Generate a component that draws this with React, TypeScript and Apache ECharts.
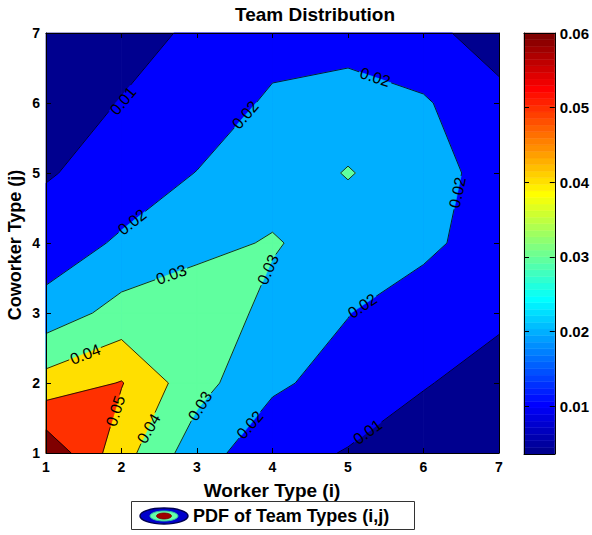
import React, { useEffect, useRef } from "react";
import * as echarts from "echarts";

// ---------- data ----------
const X_TYPES = [1, 2, 3, 4, 5, 6, 7]; // Worker Type (i)
const Y_TYPES = [1, 2, 3, 4, 5, 6, 7]; // Coworker Type (j)

// PDF values, one row per coworker type j, columns = worker type i
const Z_J1 = [0.068, 0.044, 0.0242, 0.0136, 0.0094, 0.0076, 0.0055];
const Z_J2 = [0.044, 0.0505, 0.0336, 0.0216, 0.0163, 0.0103, 0.0082];
const Z_J3 = [0.0242, 0.0336, 0.0375, 0.02665, 0.0203, 0.0128, 0.0108];
const Z_J4 = [0.0136, 0.0216, 0.02665, 0.031, 0.0245, 0.0232, 0.0129];
const Z_J5 = [0.0094, 0.01295, 0.0203, 0.0245, 0.0306, 0.0245, 0.0156];
const Z_J6 = [0.0076, 0.0102, 0.0128, 0.022, 0.0245, 0.0209, 0.0139];
const Z_J7 = [0.0055, 0.0082, 0.0108, 0.015, 0.0155, 0.0139, 0.0036];
const Z_ROWS = [Z_J1, Z_J2, Z_J3, Z_J4, Z_J5, Z_J6, Z_J7];

const LEVELS = [0.01, 0.02, 0.03, 0.04, 0.05, 0.06];
const COLORBAR_TICKS = [0.01, 0.02, 0.03, 0.04, 0.05, 0.06];
const CLIM_MAX = 0.06;

// inline contour labels: [level, x, y, rotation in degrees]
const CONTOUR_LABELS: number[][] = [
  [0.01, 2.02, 6.03, 50],
  [0.02, 3.64, 5.83, 49],
  [0.02, 2.14, 4.3, 38],
  [0.02, 5.36, 6.37, -18],
  [0.02, 6.45, 4.72, 78],
  [0.02, 5.19, 3.1, 34],
  [0.02, 3.7, 1.4, 49],
  [0.01, 5.26, 1.3, 36],
  [0.03, 2.66, 3.55, 20],
  [0.03, 3.94, 3.62, 66],
  [0.03, 3.04, 1.67, 58],
  [0.04, 1.52, 2.41, 21],
  [0.04, 2.36, 1.35, 60],
  [0.05, 1.92, 1.6, 72],
];

const TITLE = "Team Distribution";
const X_NAME = "Worker Type (i)";
const Y_NAME = "Coworker Type (j)";
const LEGEND_TEXT = "PDF of Team Types (i,j)";

// ---------- helpers ----------
const FONT = '"Liberation Sans", Arial, Helvetica, sans-serif';
const ZMIN = Math.min(...Z_ROWS.flat());

function jetColors(n: number): string[] {
  const m = Math.ceil(n / 4);
  const u: number[] = [];
  for (let i = 1; i <= m; i++) u.push(i / m);
  for (let i = 0; i < m - 1; i++) u.push(1);
  for (let i = m; i >= 1; i--) u.push(i / m);
  const gStart = Math.ceil(m / 2) - (n % 4 === 1 ? 1 : 0);
  const r = new Array(n).fill(0);
  const g = new Array(n).fill(0);
  const b = new Array(n).fill(0);
  for (let k = 0; k < u.length; k++) {
    const gi = gStart + k + 1;
    const ri = gi + m;
    const bi = gi - m;
    if (gi >= 1 && gi <= n) g[gi - 1] = u[k];
    if (ri >= 1 && ri <= n) r[ri - 1] = u[k];
    if (bi >= 1 && bi <= n) b[bi - 1] = u[k];
  }
  const out: string[] = [];
  for (let i = 0; i < n; i++) {
    out.push(
      `rgb(${Math.round(r[i] * 255)},${Math.round(g[i] * 255)},${Math.round(b[i] * 255)})`
    );
  }
  return out;
}
const NCOL = 64;
const JET = jetColors(NCOL);
function colorOf(c: number): string {
  let idx = Math.floor(((c - ZMIN) / (CLIM_MAX - ZMIN)) * NCOL) + 1;
  idx = Math.max(1, Math.min(NCOL, idx));
  return JET[idx - 1];
}

type P = [number, number];
function interp(p: P, q: P, vp: number, vq: number, L: number): P {
  const t = (L - vp) / (vq - vp);
  return [p[0] + t * (q[0] - p[0]), p[1] + t * (q[1] - p[1])];
}
function cell(i: number, j: number) {
  const pts: P[] = [
    [X_TYPES[i], Y_TYPES[j]],
    [X_TYPES[i + 1], Y_TYPES[j]],
    [X_TYPES[i + 1], Y_TYPES[j + 1]],
    [X_TYPES[i], Y_TYPES[j + 1]],
  ];
  const vals = [Z_ROWS[j][i], Z_ROWS[j][i + 1], Z_ROWS[j + 1][i + 1], Z_ROWS[j + 1][i]];
  return { pts, vals };
}
function bandPolys(pts: P[], vals: number[], L: number): P[][] {
  const above = vals.map((v) => v >= L);
  if (!above.some(Boolean)) return [];
  if (above.every(Boolean)) return [pts];
  const saddle = above[0] === above[2] && above[1] === above[3] && above[0] !== above[1];
  const center = (vals[0] + vals[1] + vals[2] + vals[3]) / 4;
  if (saddle && center < L) {
    const polys: P[][] = [];
    for (let k = 0; k < 4; k++) {
      if (!above[k]) continue;
      const pr = (k + 3) % 4;
      const nx = (k + 1) % 4;
      polys.push([
        interp(pts[pr], pts[k], vals[pr], vals[k], L),
        pts[k],
        interp(pts[k], pts[nx], vals[k], vals[nx], L),
      ]);
    }
    return polys;
  }
  const poly: P[] = [];
  for (let k = 0; k < 4; k++) {
    const n = (k + 1) % 4;
    if (above[k]) poly.push(pts[k]);
    if (above[k] !== above[n]) poly.push(interp(pts[k], pts[n], vals[k], vals[n], L));
  }
  return [poly];
}
function segments(pts: P[], vals: number[], L: number): [P, P][] {
  const above = vals.map((v) => v >= L);
  const cross: (P | null)[] = [];
  for (let k = 0; k < 4; k++) {
    const n = (k + 1) % 4;
    cross.push(above[k] !== above[n] ? interp(pts[k], pts[n], vals[k], vals[n], L) : null);
  }
  const found = cross.filter((c) => c) as P[];
  if (found.length === 2) return [[found[0], found[1]]];
  if (found.length === 4) {
    const center = (vals[0] + vals[1] + vals[2] + vals[3]) / 4;
    const cutAbove = center < L;
    const segs: [P, P][] = [];
    for (let k = 0; k < 4; k++) {
      if (above[k] !== cutAbove) continue;
      segs.push([cross[(k + 3) % 4] as P, cross[k] as P]);
    }
    return segs;
  }
  return [];
}

type Box = { cx: number; cy: number; c: number; s: number; hw: number; hh: number };
function clipOutside(a: number[], b: number[], boxes: Box[]): number[][][] {
  let pieces: number[][] = [[0, 1]];
  for (const bx of boxes) {
    const ua = (a[0] - bx.cx) * bx.c - (a[1] - bx.cy) * bx.s;
    const va = (a[0] - bx.cx) * bx.s + (a[1] - bx.cy) * bx.c;
    const ub = (b[0] - bx.cx) * bx.c - (b[1] - bx.cy) * bx.s;
    const vb = (b[0] - bx.cx) * bx.s + (b[1] - bx.cy) * bx.c;
    let t0 = 0;
    let t1 = 1;
    let ok = true;
    const clip = (p: number, q: number) => {
      if (p === 0) {
        if (q < 0) ok = false;
        return;
      }
      const r = q / p;
      if (p < 0) {
        if (r > t1) ok = false;
        else if (r > t0) t0 = r;
      } else {
        if (r < t0) ok = false;
        else if (r < t1) t1 = r;
      }
    };
    const du = ub - ua;
    const dv = vb - va;
    clip(-du, ua + bx.hw);
    clip(du, bx.hw - ua);
    clip(-dv, va + bx.hh);
    clip(dv, bx.hh - va);
    if (!ok || t0 >= t1) continue;
    const np: number[][] = [];
    for (const [s, e] of pieces) {
      if (e <= t0 || s >= t1) {
        np.push([s, e]);
        continue;
      }
      if (s < t0) np.push([s, t0]);
      if (e > t1) np.push([t1, e]);
    }
    pieces = np;
  }
  const lerp = (t: number) => [a[0] + t * (b[0] - a[0]), a[1] + t * (b[1] - a[1])];
  return pieces.map(([s, e]) => [lerp(s), lerp(e)]);
}

const fmt = (v: number) => v.toFixed(2);

export default function App() {
  const ref = useRef<HTMLDivElement>(null);
  useEffect(() => {
    if (!ref.current) return;
    const chart = echarts.init(ref.current, undefined, { renderer: "svg" });

    const fillLevels = [ZMIN, ...LEVELS];
    const fillData = fillLevels.map((L, k) => [X_TYPES[0], Y_TYPES[0], k]);
    const lineData = LEVELS.map((L, k) => [X_TYPES[0], Y_TYPES[0], k]);
    const step = (CLIM_MAX - ZMIN) / NCOL;
    const barData = JET.map((c, k) => [0.5, ZMIN + (k + 0.5) * step, k]);

    const axisLineStyle = { show: true, onZero: false, lineStyle: { color: "#000", width: 1 } };
    const tickIn = { show: true, inside: true, length: 5, lineStyle: { color: "#000", width: 1 } };
    const labelFont = { fontFamily: FONT, fontWeight: "bold" as const, fontSize: 14, color: "#000" };

    const option: any = {
      animation: false,
      grid: [
        { left: 46, top: 33, width: 453, height: 420 },
        { left: 524, top: 33, width: 32, height: 421 },
      ],
      xAxis: [
        {
          gridIndex: 0, type: "value", min: 1, max: 7, interval: 1, position: "bottom", z: 10,
          axisLine: axisLineStyle, axisTick: tickIn,
          axisLabel: { ...labelFont, margin: 7 }, splitLine: { show: false },
        },
        {
          gridIndex: 0, type: "value", min: 1, max: 7, interval: 1, position: "top", z: 10,
          axisLine: axisLineStyle, axisTick: tickIn, axisLabel: { show: false }, splitLine: { show: false },
        },
        {
          gridIndex: 1, type: "value", min: 0, max: 1, position: "bottom", z: 10,
          axisLine: axisLineStyle, axisTick: { show: false }, axisLabel: { show: false }, splitLine: { show: false },
        },
        {
          gridIndex: 1, type: "value", min: 0, max: 1, position: "top", z: 10,
          axisLine: axisLineStyle, axisTick: { show: false }, axisLabel: { show: false }, splitLine: { show: false },
        },
      ],
      yAxis: [
        {
          gridIndex: 0, type: "value", min: 1, max: 7, interval: 1, position: "left", z: 10,
          axisLine: axisLineStyle, axisTick: tickIn,
          axisLabel: { ...labelFont, margin: 6 }, splitLine: { show: false },
        },
        {
          gridIndex: 0, type: "value", min: 1, max: 7, interval: 1, position: "right", z: 10,
          axisLine: axisLineStyle, axisTick: tickIn, axisLabel: { show: false }, splitLine: { show: false },
        },
        {
          gridIndex: 1, type: "value", min: ZMIN, max: CLIM_MAX, position: "right", z: 10,
          axisLine: axisLineStyle,
          axisTick: { ...tickIn, customValues: COLORBAR_TICKS },
          axisLabel: { ...labelFont, fontSize: 15, margin: 5, customValues: COLORBAR_TICKS, formatter: (v: number) => fmt(v) },
          splitLine: { show: false },
        },
        {
          gridIndex: 1, type: "value", min: ZMIN, max: CLIM_MAX, position: "left", z: 10,
          axisLine: axisLineStyle,
          axisTick: { ...tickIn, customValues: COLORBAR_TICKS },
          axisLabel: { show: false }, splitLine: { show: false },
        },
      ],
      series: [
        {
          type: "custom",
          xAxisIndex: 0,
          yAxisIndex: 0,
          z: 1,
          silent: true,
          data: fillData,
          renderItem: (params: any, api: any) => {
            const k = api.value(2);
            const L = fillLevels[k];
            const col = colorOf(L);
            const children: any[] = [];
            for (let j = 0; j < Y_TYPES.length - 1; j++) {
              for (let i = 0; i < X_TYPES.length - 1; i++) {
                const { pts, vals } = cell(i, j);
                const polys = k === 0 ? [pts] : bandPolys(pts, vals, L);
                for (const poly of polys) {
                  children.push({
                    type: "polygon",
                    shape: { points: poly.map((p) => api.coord(p)) },
                    style: { fill: col, stroke: col, lineWidth: 0.7 },
                  });
                }
              }
            }
            return { type: "group", children };
          },
        },
        {
          type: "custom",
          xAxisIndex: 0,
          yAxisIndex: 0,
          z: 2,
          silent: true,
          data: lineData,
          renderItem: (params: any, api: any) => {
            const L = LEVELS[api.value(2)];
            const boxes: Box[] = CONTOUR_LABELS.filter((lb) => Math.abs(lb[0] - L) < 1e-9).map((lb) => {
              const c = api.coord([lb[1], lb[2]]);
              const th = (lb[3] * Math.PI) / 180;
              return { cx: c[0], cy: c[1], c: Math.cos(th), s: Math.sin(th), hw: 17, hh: 7 };
            });
            const children: any[] = [];
            for (let j = 0; j < Y_TYPES.length - 1; j++) {
              for (let i = 0; i < X_TYPES.length - 1; i++) {
                const { pts, vals } = cell(i, j);
                for (const [p, q] of segments(pts, vals, L)) {
                  const a = api.coord(p);
                  const b = api.coord(q);
                  for (const [s, e] of clipOutside(a, b, boxes)) {
                    children.push({
                      type: "line",
                      shape: { x1: s[0], y1: s[1], x2: e[0], y2: e[1] },
                      style: { stroke: "#000", lineWidth: 0.8 },
                    });
                  }
                }
              }
            }
            return { type: "group", children };
          },
        },
        {
          type: "custom",
          xAxisIndex: 0,
          yAxisIndex: 0,
          z: 3,
          silent: true,
          data: CONTOUR_LABELS.map((lb) => [lb[1], lb[2], lb[0], lb[3]]),
          renderItem: (params: any, api: any) => {
            const c = api.coord([api.value(0), api.value(1)]);
            return {
              type: "text",
              x: c[0],
              y: c[1],
              rotation: (api.value(3) * Math.PI) / 180,
              style: {
                text: fmt(api.value(2)),
                fill: "#000",
                font: `16px ${FONT}`,
                textAlign: "center",
                textVerticalAlign: "middle",
                align: "center",
                verticalAlign: "middle",
              },
            };
          },
        },
        {
          type: "custom",
          xAxisIndex: 2,
          yAxisIndex: 2,
          z: 1,
          silent: true,
          data: barData,
          renderItem: (params: any, api: any) => {
            const k = api.value(2);
            const lo = api.coord([0, ZMIN + k * step]);
            const hi = api.coord([1, ZMIN + (k + 1) * step]);
            return {
              type: "rect",
              shape: { x: lo[0], y: hi[1], width: hi[0] - lo[0], height: lo[1] - hi[1] },
              style: { fill: JET[k], stroke: JET[k], lineWidth: 0.5 },
            };
          },
        },
      ],
      graphic: [
        {
          type: "text",
          x: 315,
          y: 14,
          style: {
            text: TITLE, fill: "#000", font: `bold 19px ${FONT}`,
            textAlign: "center", textVerticalAlign: "middle", align: "center", verticalAlign: "middle",
          },
        },
        {
          type: "text",
          x: 272,
          y: 490,
          style: {
            text: X_NAME, fill: "#000", font: `bold 19px ${FONT}`,
            textAlign: "center", textVerticalAlign: "middle", align: "center", verticalAlign: "middle",
          },
        },
        {
          type: "text",
          x: 15,
          y: 245,
          rotation: Math.PI / 2,
          style: {
            text: Y_NAME, fill: "#000", font: `bold 18px ${FONT}`,
            textAlign: "center", textVerticalAlign: "middle", align: "center", verticalAlign: "middle",
          },
        },
        {
          type: "rect",
          shape: { x: 131.5, y: 501.5, width: 283, height: 28 },
          style: { fill: "#fff", stroke: "#333", lineWidth: 1 },
        },
        {
          type: "ellipse",
          shape: { cx: 164, cy: 516, rx: 24, ry: 8 },
          style: { fill: "#0000cc", stroke: "#000050", lineWidth: 1.5 },
        },
        {
          type: "ellipse",
          shape: { cx: 164, cy: 516, rx: 14, ry: 5 },
          style: { fill: "#66ffaa", stroke: "#30c0a0", lineWidth: 1 },
        },
        {
          type: "ellipse",
          shape: { cx: 164, cy: 516, rx: 7.5, ry: 3 },
          style: { fill: "#a00000", stroke: "#700000", lineWidth: 0.8 },
        },
        {
          type: "text",
          x: 193,
          y: 516,
          style: {
            text: LEGEND_TEXT, fill: "#000", font: `bold 18px ${FONT}`,
            textAlign: "left", textVerticalAlign: "middle", align: "left", verticalAlign: "middle",
          },
        },
      ],
    };
    chart.setOption(option);
    return () => chart.dispose();
  }, []);
  return (
    <div
      ref={ref}
      style={{ position: "absolute", left: 0, top: 0, width: 592, height: 535, background: "#fff" }}
    />
  );
}
